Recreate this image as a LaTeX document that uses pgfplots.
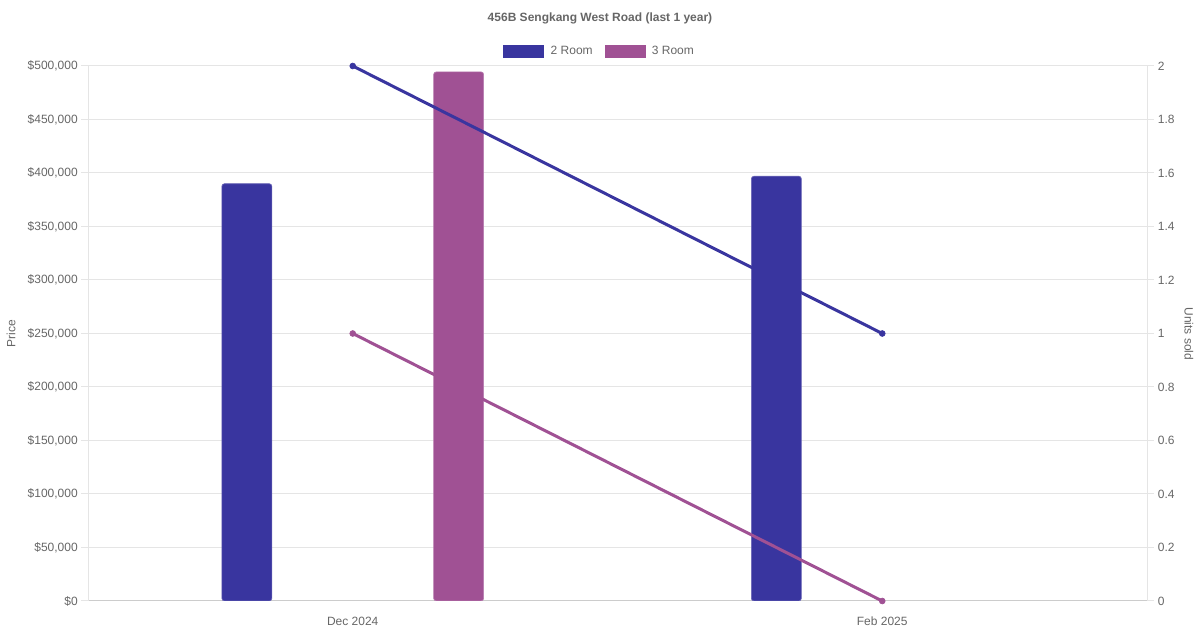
\documentclass[border=0pt]{standalone}
\usepackage{pgfplots}
\pgfplotsset{compat=1.18}
\usepackage{fontspec}
\setmainfont{Liberation Sans}
\definecolor{c2}{HTML}{39359F}
\definecolor{c3}{HTML}{A05194}
\definecolor{txt}{HTML}{666666}
\definecolor{gridc}{HTML}{E5E5E5}
\definecolor{baseax}{HTML}{CCCCCC}
\begin{document}
\begin{tikzpicture}
\fontsize{9}{11}\selectfont
\path[use as bounding box] (0,0) rectangle (900pt,472.5pt);
\begin{axis}[
  at={(66pt,21.75pt)}, anchor=south west,
  scale only axis, width=794.25pt, height=401.25pt,
  xmin=-0.5, xmax=1.5, ymin=0, ymax=500000,
  axis x line*=bottom, axis y line*=left,
  x axis line style={-, draw=baseax, line width=0.75pt},
  y axis line style={-, draw=gridc, line width=0.75pt},
  xtick={0,1}, xticklabels={Dec 2024, Feb 2025},
  xtick style={draw=none},
  ytick={0,50000,...,500000},
  yticklabels={{\$0},{\$50,000},{\$100,000},{\$150,000},{\$200,000},{\$250,000},{\$300,000},{\$350,000},{\$400,000},{\$450,000},{\$500,000}},
  ymajorgrids, major grid style={draw=gridc, line width=0.75pt},
  ytick style={draw=gridc, line width=0.75pt},
  tick align=outside, major tick length=5pt,
  ticklabel style={font=\fontsize{9}{11}\selectfont, text=txt},
  yticklabel style={xshift=0.5pt},
  xticklabel style={yshift=-4pt},
  /pgf/number format/assume math mode=true,
  scaled y ticks=false,
  ybar, bar width=37.5pt, bar shift=0pt,
]
\addplot[fill=c2, draw=c2!75!white, line width=0.5pt, rounded corners=2pt] coordinates {(-0.2,390000) (0.8,397000)};
\addplot[fill=c3, draw=c3!75!white, line width=0.5pt, rounded corners=2pt] coordinates {(0.2,494500)};
\end{axis}
\begin{axis}[
  at={(66pt,21.75pt)}, anchor=south west,
  scale only axis, width=794.25pt, height=401.25pt,
  xmin=-0.5, xmax=1.5, ymin=0, ymax=2,
  axis x line=none, axis y line*=right,
  y axis line style={-, draw=gridc, line width=0.75pt},
  ytick={0,0.2,...,2.01},
  ytick style={draw=gridc, line width=0.75pt},
  tick align=outside, major tick length=5pt,
  ticklabel style={font=\fontsize{9}{11}\selectfont, text=txt},
  yticklabel style={xshift=0pt, /pgf/number format/fixed, /pgf/number format/precision=1},
  /pgf/number format/assume math mode=true,
  legend style={at={(0.4835,1.027)}, anchor=center, draw=none, fill=none,
    legend columns=2, font=\fontsize{9}{11}\selectfont, text=txt,
    /tikz/every even column/.append style={column sep=7pt}},
  legend cell align=left,
]
\addlegendimage{legend image code/.code={\fill[c2] (0pt,-4.5pt) rectangle (30pt,4.5pt); \path (33pt,0pt);}}
\addlegendentry{2 Room}
\addlegendimage{legend image code/.code={\fill[c3] (0pt,-4.5pt) rectangle (30pt,4.5pt); \path (33pt,0pt);}}
\addlegendentry{3 Room}
\addplot[c2, line width=2.25pt, mark=*, mark size=2.2pt, mark options={line width=0.5pt}, forget plot] coordinates {(0,2) (1,1)};
\addplot[c3, line width=2.25pt, mark=*, mark size=2.2pt, mark options={line width=0.5pt}, forget plot] coordinates {(0,1) (1,0)};
\end{axis}
\node[text=txt, font=\bfseries\fontsize{9}{11}\selectfont] at (450pt,459pt) {456B Sengkang West Road (last 1 year)};
\node[text=txt, rotate=90] at (8.25pt,222pt) {Price};
\node[text=txt, rotate=-90] at (891.75pt,222pt) {Units sold};
\end{tikzpicture}
\end{document}
